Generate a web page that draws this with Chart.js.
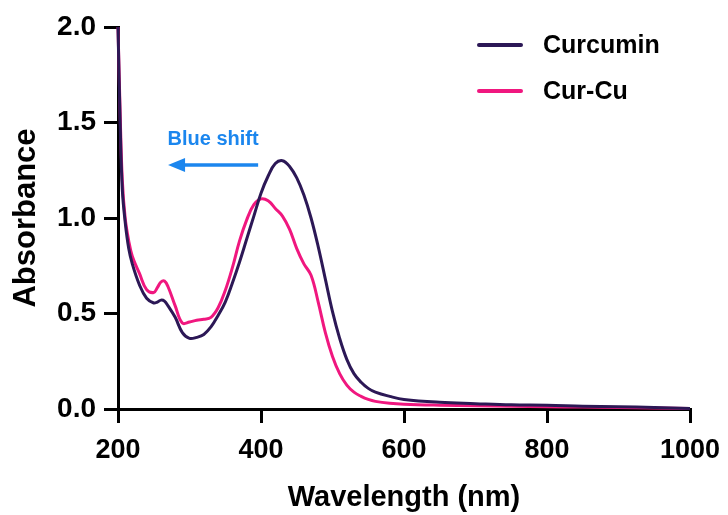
<!DOCTYPE html>
<html>
<head>
<meta charset="utf-8">
<script src="https://cdn.jsdelivr.net/npm/chart.js@4"></script>
<style>
    html, body { margin: 0; padding: 0; background: #fff; }
    #wrap { width: 728px; height: 515px; }
</style>
</head>
<body>
<div id="wrap"><canvas id="uvChart" width="728" height="515"></canvas></div>
<script>
// UV-vis spectra, values
const wavelengths = [200, 203, 206, 210, 215, 220, 230, 240, 250, 255, 260, 265, 270, 280, 290, 300, 310, 320, 330, 340, 350, 360, 370, 380, 390, 400, 410, 420, 430, 440, 450, 460, 470, 480, 490, 500, 510, 520, 530, 540, 550, 560, 580, 600, 650, 700, 750, 800, 850, 900, 950, 1000];
const curcumin = [2.0, 1.5, 1.15, 0.98, 0.84, 0.76, 0.65, 0.58, 0.555, 0.56, 0.57, 0.565, 0.54, 0.48, 0.40, 0.37, 0.375, 0.39, 0.43, 0.49, 0.56, 0.66, 0.77, 0.89, 1.01, 1.13, 1.22, 1.285, 1.30, 1.27, 1.21, 1.12, 1.00, 0.85, 0.68, 0.51, 0.37, 0.26, 0.185, 0.14, 0.108, 0.088, 0.066, 0.05, 0.035, 0.028, 0.022, 0.02, 0.015, 0.012, 0.008, 0.003];
const curCu = [2.0, 1.55, 1.2, 1.0, 0.88, 0.80, 0.71, 0.625, 0.61, 0.635, 0.665, 0.67, 0.64, 0.54, 0.45, 0.455, 0.465, 0.47, 0.48, 0.53, 0.62, 0.74, 0.88, 0.99, 1.07, 1.10, 1.09, 1.05, 1.01, 0.94, 0.84, 0.76, 0.70, 0.56, 0.40, 0.275, 0.185, 0.125, 0.088, 0.066, 0.05, 0.04, 0.03, 0.025, 0.02, 0.017, 0.014, 0.012, 0.01, 0.008, 0.005, 0.002];
const seriesNames = ['Curcumin', 'Cur-Cu'];
const seriesColors = ['#2c1856', '#f0177f'];
const xTicks = [200, 400, 600, 800, 1000];
const yTicks = [0.0, 0.5, 1.0, 1.5, 2.0];

const FONT = '"Liberation Sans", Arial, Helvetica, sans-serif';

function toPoints(ys) {
    return wavelengths.map((x, i) => ({ x: x, y: ys[i] }));
}

// legend + "Blue shift" arrow
const overlayPlugin = {
    id: 'overlay',
    afterDatasetsDraw(chart) {
        const ctx = chart.ctx;
        const xs = chart.scales.x;
        const ys = chart.scales.y;
        ctx.save();

        // legend
        ctx.lineWidth = 4;
        ctx.lineCap = 'round';
        ctx.font = 'bold 25px ' + FONT;
        ctx.textBaseline = 'middle';
        ctx.textAlign = 'left';
        seriesNames.forEach((name, i) => {
            const y = 45 + i * 46;
            ctx.strokeStyle = seriesColors[i];
            ctx.beginPath();
            ctx.moveTo(479, y);
            ctx.lineTo(521, y);
            ctx.stroke();
            ctx.fillStyle = '#000';
            ctx.fillText(name, 543, y + 1);
        });

        // blue shift annotation
        const blue = '#1b86ee';
        const x0 = xs.getPixelForValue(396);
        const x1 = xs.getPixelForValue(270);
        const ya = ys.getPixelForValue(1.277);
        ctx.strokeStyle = blue;
        ctx.fillStyle = blue;
        ctx.lineWidth = 3.5;
        ctx.lineCap = 'butt';
        ctx.beginPath();
        ctx.moveTo(x0, ya);
        ctx.lineTo(x1 + 12, ya);
        ctx.stroke();
        ctx.beginPath();
        ctx.moveTo(x1, ya);
        ctx.lineTo(x1 + 17, ya - 7);
        ctx.lineTo(x1 + 17, ya + 7);
        ctx.closePath();
        ctx.fill();

        ctx.font = 'bold 20px ' + FONT;
        ctx.textAlign = 'center';
        ctx.fillText('Blue shift', (x0 + x1) / 2, ys.getPixelForValue(1.41));
        ctx.restore();
    }
};

const axisCommon = {
    type: 'linear',
    grid: { drawOnChartArea: false, drawTicks: true, tickLength: 14, lineWidth: 3, color: '#000' },
    border: { display: true, width: 3, color: '#000' }
};

new Chart(document.getElementById('uvChart'), {
    type: 'line',
    data: {
        datasets: [
            {
                label: seriesNames[0],
                data: toPoints(curcumin),
                borderColor: seriesColors[0],
                borderWidth: 3,
                pointRadius: 0,
                tension: 0.4,
                clip: false
            },
            {
                label: seriesNames[1],
                data: toPoints(curCu),
                borderColor: seriesColors[1],
                borderWidth: 3,
                pointRadius: 0,
                tension: 0.4,
                clip: false
            }
        ]
    },
    options: {
        responsive: false,
        animation: false,
        devicePixelRatio: 1,
        layout: { padding: { left: 0, top: 27, right: 38, bottom: 0 } },
        plugins: {
            legend: { display: false },
            tooltip: { enabled: false }
        },
        scales: {
            x: {
                ...axisCommon,
                min: 200,
                max: 1000,
                afterBuildTicks: (s) => { s.ticks = xTicks.map(v => ({ value: v })); },
                afterFit: (s) => {
                    s.height = 106;
                    s.paddingLeft = 0;
                    s.paddingRight = 0;
                },
                ticks: {
                    color: '#000',
                    padding: 11,
                    maxRotation: 0,
                    callback: (v) => String(v),
                    font: { family: FONT, size: 27, weight: 'bold' }
                },
                title: {
                    display: true,
                    text: 'Wavelength (nm)',
                    color: '#000',
                    padding: { top: 0, bottom: 0 },
                    font: { family: FONT, size: 29, weight: 'bold' }
                }
            },
            y: {
                ...axisCommon,
                min: 0,
                max: 2.0,
                afterBuildTicks: (s) => { s.ticks = yTicks.map(v => ({ value: v })); },
                afterFit: (s) => {
                    s.width = 118;
                    s.paddingTop = 0;
                    s.paddingBottom = 0;
                },
                ticks: {
                    color: '#000',
                    padding: 8,
                    callback: (v) => Number(v).toFixed(1),
                    font: { family: FONT, size: 28, weight: 'bold' }
                },
                title: {
                    display: true,
                    text: 'Absorbance',
                    color: '#000',
                    padding: { top: 8, bottom: 0 },
                    font: { family: FONT, size: 31, weight: 'bold' }
                }
            }
        }
    },
    plugins: [overlayPlugin]
});
</script>
</body>
</html>
